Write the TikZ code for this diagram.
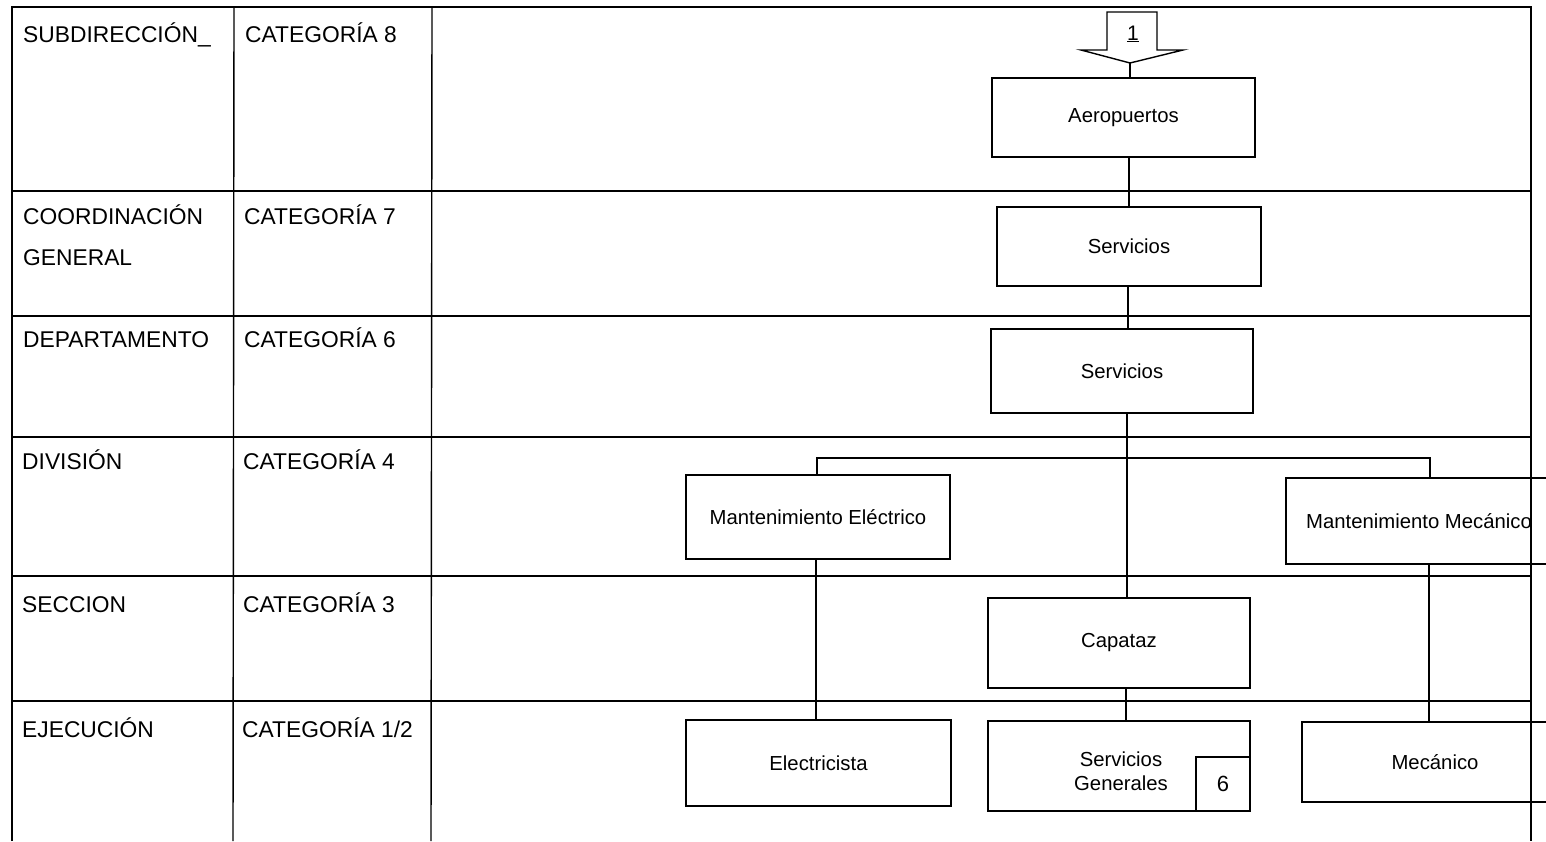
\documentclass[tikz,border=0pt]{standalone}
\usepackage{fontspec}
\setmainfont{Liberation Sans}
\begin{document}
\begin{tikzpicture}[x=1pt,y=-1pt,
  grid/.style={line width=1.4pt},
  conn/.style={line width=1.4pt},
  box/.style={draw,line width=1.4pt,inner sep=0pt,align=center,font=\fontsize{20.3}{24}\selectfont},
  lab/.style={anchor=base west,inner sep=0pt,font=\fontsize{22.8}{27}\selectfont}]
\useasboundingbox (0,0) rectangle (1546,841);
\clip (0,0) rectangle (1546,841);
% table grid
\draw[grid] (12,841) -- (12,7) -- (1531,7) -- (1531,841);
\foreach \yy in {191,316,437,576,701} \draw[grid] (12,\yy) -- (1531,\yy);
\draw[grid] (234,7) -- (233,841);
\draw[grid] (432,7) -- (431,841);
% row labels
\node[lab] (l1) at (23,42) {SUBDIRECCIÓN\_};
\node[lab] (c1) at (245,42) {CATEGORÍA 8};
\node[lab] (l2) at (23,224) {COORDINACIÓN};
\node[lab] (l2b) at (23,265) {GENERAL};
\node[lab] (c2) at (244,224) {CATEGORÍA 7};
\node[lab] (l3) at (23,347) {DEPARTAMENTO};
\node[lab] (c3) at (244,347) {CATEGORÍA 6};
\node[lab] (l4) at (22,469) {DIVISIÓN};
\node[lab] (c4) at (243,469) {CATEGORÍA 4};
\node[lab] (l5) at (22,612) {SECCION};
\node[lab] (c5) at (243,612) {CATEGORÍA 3};
\node[lab] (l6) at (22,737) {EJECUCIÓN};
\node[lab] (c6) at (242,737) {CATEGORÍA 1/2};
% boxes
\node[box,minimum width=263pt,minimum height=79pt] (aero) at (1123.5,117.5) {Aeropuertos};
\node[box,minimum width=264pt,minimum height=79pt] (serv7) at (1129,246.5) {Servicios};
\node[box,minimum width=262pt,minimum height=84pt] (serv6) at (1122,371) {Servicios};
\node[box,minimum width=264pt,minimum height=84pt] (me) at (818,517) {Mantenimiento Eléctrico};
\node[box,minimum width=266pt,minimum height=86pt] (mm) at (1419,521) {Mantenimiento Mecánico};
\node[box,minimum width=262pt,minimum height=90pt] (cap) at (1119,643) {Capataz};
\node[box,minimum width=265pt,minimum height=86pt] (elec) at (818.5,763) {Electricista};
\node[box,minimum width=262pt,minimum height=90pt] (sg) at (1119,766) {};
\node[box,draw=none,anchor=center] (sgt) at (1121,771) {Servicios\\Generales};
\node[box,minimum width=54pt,minimum height=54pt,font=\fontsize{22}{26}\selectfont] (six) at (1223,784) {6};
\node[box,minimum width=266pt,minimum height=80pt] (mec) at (1435,762) {Mecánico};
% entry block arrow
\draw[conn] (1107,12) -- (1157,12) -- (1157,50) -- (1183,50) -- (1130,63) -- (1081,50) -- (1107,50) -- cycle;
\node[box,draw=none,font=\fontsize{21}{24}\selectfont] (one) at (1133,34) {\underline{1}};
\coordinate (tip) at (1130,63);
% connector x positions
\coordinate (x1) at (1129,0);
\coordinate (x2) at (1128,0);
\coordinate (xt) at (1127,0);
\coordinate (xa) at (817,0);
\coordinate (xb) at (1430,0);
\coordinate (xe) at (816,0);
\coordinate (xm) at (1429,0);
\coordinate (xc) at (1126,0);
\coordinate (bus) at (0,458);
% connectors
\draw[conn] (tip) -- (tip |- aero.north);
\draw[conn] (aero.south -| x1) -- (serv7.north -| x1);
\draw[conn] (serv7.south -| x2) -- (serv6.north -| x2);
\draw[conn] (serv6.south -| xt) -- (cap.north -| xt);
\draw[conn] (me.north -| xa) -- (xa |- bus) -- (xb |- bus) -- (mm.north -| xb);
\draw[conn] (me.south -| xe) -- (elec.north -| xe);
\draw[conn] (mm.south -| xm) -- (mec.north -| xm);
\draw[conn] (cap.south -| xc) -- (sg.north -| xc);
\end{tikzpicture}
\end{document}
